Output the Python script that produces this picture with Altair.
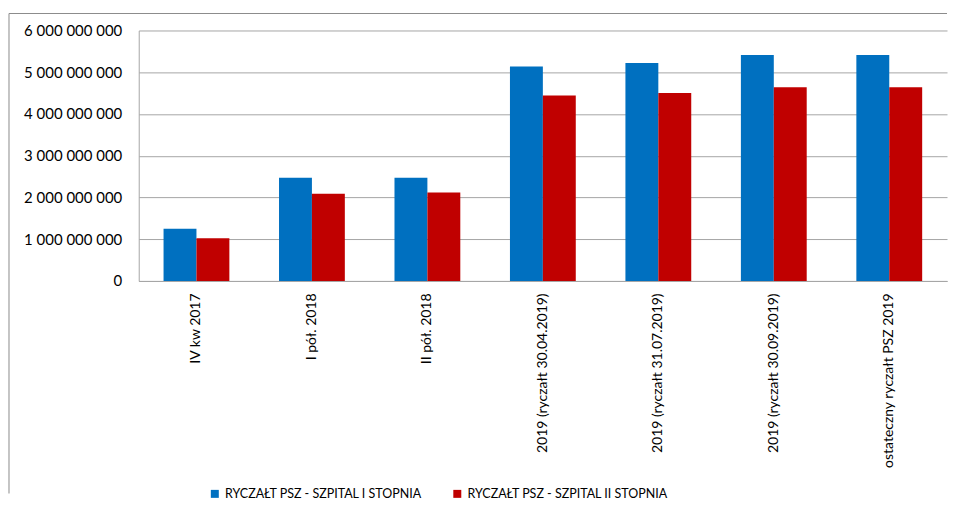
import altair as alt
import pandas as pd

categories = [
    "IV kw 2017",
    "I pół. 2018",
    "II pół. 2018",
    "2019 (ryczałt 30.04.2019)",
    "2019 (ryczałt 31.07.2019)",
    "2019 (ryczałt 30.09.2019)",
    "ostateczny ryczałt PSZ 2019",
]
series = ["RYCZAŁT PSZ - SZPITAL I STOPNIA", "RYCZAŁT PSZ - SZPITAL II STOPNIA"]
values_I = [1.25e9, 2.47e9, 2.47e9, 5.14e9, 5.22e9, 5.41e9, 5.41e9]
values_II = [1.02e9, 2.09e9, 2.12e9, 4.44e9, 4.50e9, 4.64e9, 4.64e9]
colors = ["#0070C0", "#C00000"]
y_ticks = [0, 1e9, 2e9, 3e9, 4e9, 5e9, 6e9]

rows = []
for c, a, b in zip(categories, values_I, values_II):
    rows.append({"category": c, "series": series[0], "value": a})
    rows.append({"category": c, "series": series[1], "value": b})
df = pd.DataFrame(rows)

W, H = 810, 251
FONT = "Lato"

bars = alt.Chart(df).mark_bar().encode(
    x=alt.X(
        "category:N",
        sort=categories,
        scale=alt.Scale(paddingInner=0.43, paddingOuter=0.215),
        axis=alt.Axis(
            title=None, labelAngle=-90, ticks=False, labelPadding=12,
            domainColor="#A6A6A6", labelFontSize=14, labelColor="#000",
            labelFont=FONT, grid=False, labelLimit=300,
        ),
    ),
    xOffset=alt.XOffset("series:N", sort=series,
                        scale=alt.Scale(paddingInner=0, paddingOuter=0)),
    y=alt.Y(
        "value:Q",
        scale=alt.Scale(domain=[0, 6e9], nice=False),
        axis=alt.Axis(
            title=None, values=y_ticks,
            labelExpr="datum.value == 0 ? '0' : format(datum.value / 1e9, 'd') + ' 000 000 000'",
            ticks=False, labelPadding=17, gridColor="#A6A6A6",
            domainColor="#A6A6A6", labelFontSize=15, labelColor="#000",
            labelFont=FONT,
        ),
    ),
    color=alt.Color(
        "series:N",
        scale=alt.Scale(domain=series, range=colors),
        legend=alt.Legend(
            title=None, orient="none", legendX=70, legendY=458,
            direction="horizontal", columns=2, symbolType="square",
            symbolSize=64, labelFontSize=12.5, labelFont=FONT,
            labelColor="#000", columnPadding=29, labelOffset=4, padding=0,
            symbolStrokeWidth=0, labelLimit=400,
        ),
    ),
)

one = alt.Data(values=[{"a": 1}])
left_border = alt.Chart(one).mark_rule(color="#8C8C8C", strokeWidth=1).encode(
    x=alt.value(-130), y=alt.value(-17), y2=alt.value(464)
)
top_border = alt.Chart(one).mark_rule(color="#8C8C8C", strokeWidth=1).encode(
    x=alt.value(-130), x2=alt.value(W), y=alt.value(-17)
)

chart = alt.layer(bars, left_border, top_border).properties(
    width=W, height=H,
    padding={"left": 0, "top": 4, "right": 0, "bottom": 0},
).configure_view(stroke=None)

chart.save("out.html", embed_options={"renderer": "svg", "actions": False})
